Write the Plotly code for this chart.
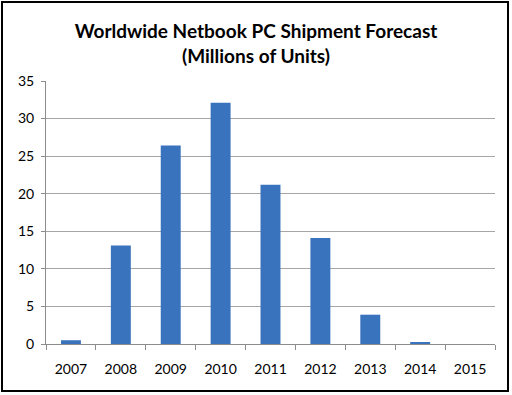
import plotly.graph_objects as go

years = ["2007", "2008", "2009", "2010", "2011", "2012", "2013", "2014", "2015"]
shipments = [0.5, 13.1, 26.4, 32.1, 21.2, 14.1, 3.9, 0.2, 0.0]
y_ticks = [0, 5, 10, 15, 20, 25, 30, 35]

W, H = 512, 395
L, R, T, B = 46, 17, 81, 51
PW, PH = W - L - R, H - T - B

fig = go.Figure()
fig.add_trace(go.Bar(
    x=years, y=shipments,
    marker=dict(color="#3a73bd", line=dict(width=0)),
    width=0.4,
))

fig.update_layout(
    width=W, height=H,
    margin=dict(l=L, r=R, t=T, b=B),
    paper_bgcolor="white", plot_bgcolor="white",
    showlegend=False,
    title=dict(
        text="<b>Worldwide Netbook PC Shipment Forecast<br>(Millions of Units)</b>",
        x=256 / W, xref="container", xanchor="center",
        y=1 - 38 / H, yanchor="middle",
        font=dict(family="Lato, Open Sans, sans-serif", size=19, color="black"),
    ),
    xaxis=dict(
        type="category",
        showline=True, linecolor="#8c8c8c", linewidth=1,
        ticks="outside", tickson="boundaries", ticklen=5, tickcolor="#8c8c8c",
        showgrid=False,
        tickfont=dict(family="Lato, Open Sans, sans-serif", size=14, color="black"),
        ticklabelstandoff=12,
    ),
    yaxis=dict(
        range=[0, 35], tickvals=y_ticks,
        showline=True, linecolor="#8c8c8c", linewidth=1,
        ticks="outside", ticklen=4, tickcolor="#8c8c8c",
        showgrid=True, gridcolor="#a6a6a6", gridwidth=1,
        zeroline=False,
        tickfont=dict(family="Lato, Open Sans, sans-serif", size=14, color="black"),
        ticklabelstandoff=4,
    ),
    shapes=[dict(
        type="rect", xref="paper", yref="paper",
        x0=(2 - L) / PW, x1=(508 - L) / PW,
        y0=-(391 - (H - B)) / PH, y1=1 + (T - 2) / PH,
        line=dict(color="black", width=2), fillcolor="rgba(0,0,0,0)",
        layer="above",
    )],
)

fig.write_html("out.html", config={"displayModeBar": False},
               post_script="document.body.style.margin='0';")
